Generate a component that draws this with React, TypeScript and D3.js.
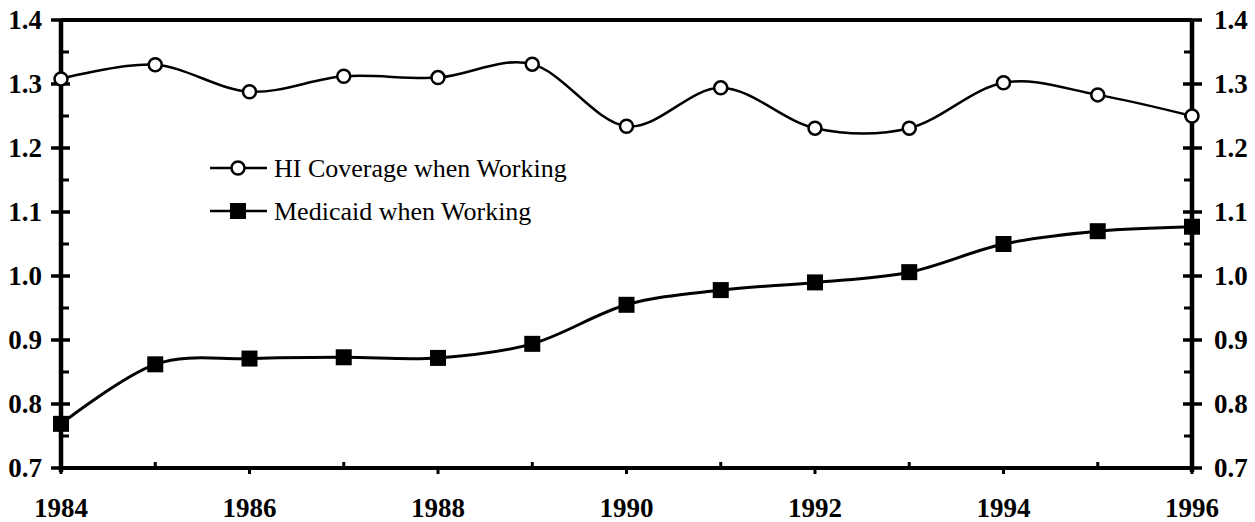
import React from "react";
import * as d3 from "d3";

const years = [1984, 1985, 1986, 1987, 1988, 1989, 1990, 1991, 1992, 1993, 1994, 1995, 1996];
const hiCoverage = [1.308, 1.33, 1.288, 1.312, 1.31, 1.331, 1.234, 1.294, 1.231, 1.231, 1.302, 1.283, 1.25];
const medicaid = [0.769, 0.862, 0.871, 0.873, 0.872, 0.894, 0.955, 0.978, 0.99, 1.006, 1.05, 1.07, 1.077];
const yTicks = [0.7, 0.8, 0.9, 1.0, 1.1, 1.2, 1.3, 1.4];
const yMinor = [0.75, 0.85, 0.95, 1.05, 1.15, 1.25, 1.35];
const xLabels = [1984, 1986, 1988, 1990, 1992, 1994, 1996];
const seriesNames = ["HI Coverage when Working", "Medicaid when Working"];

const W = 1255;
const H = 522;
const left = 61;
const right = 1192;
const top = 20;
const bottom = 468;
const font = '"Liberation Serif", "DejaVu Serif", serif';

export default function App() {
  const x = d3.scaleLinear().domain([1984, 1996]).range([left, right]);
  const y = d3.scaleLinear().domain([0.7, 1.4]).range([bottom, top]);

  const line = d3
    .line<number>()
    .x((d, i) => x(years[i]))
    .y((d) => y(d))
    .curve(d3.curveCardinal.tension(0));

  const lbl = { fontFamily: font, fontSize: 27, fontWeight: "bold" as const };

  return (
    <svg
      width={W}
      height={H}
      style={{ position: "absolute", left: 0, top: 0, background: "#fff", fontFamily: font }}
    >
      {/* frame */}
      <line x1={left} x2={right} y1={top} y2={top} stroke="#000" strokeWidth={4} />
      <line x1={left} x2={right} y1={bottom} y2={bottom} stroke="#000" strokeWidth={4} />
      <line x1={left} x2={left} y1={top} y2={bottom + 4} stroke="#000" strokeWidth={4.5} />
      <line x1={right} x2={right} y1={top} y2={bottom + 4} stroke="#000" strokeWidth={4.5} />

      {/* y ticks + labels, both sides */}
      {yTicks.map((t) => (
        <g key={"yt" + t}>
          <line x1={left - 10} x2={left + 9} y1={y(t)} y2={y(t)} stroke="#000" strokeWidth={3.5} />
          <line x1={right - 9} x2={right + 10} y1={y(t)} y2={y(t)} stroke="#000" strokeWidth={3.5} />
          <text x={42} y={y(t)} dy="0.35em" textAnchor="end" style={lbl}>
            {d3.format(".1f")(t)}
          </text>
          <text x={1214} y={y(t)} dy="0.35em" textAnchor="start" style={lbl}>
            {d3.format(".1f")(t)}
          </text>
        </g>
      ))}
      {yMinor.map((t) => (
        <g key={"ym" + t}>
          <line x1={left} x2={left + 8} y1={y(t)} y2={y(t)} stroke="#000" strokeWidth={3} />
          <line x1={right - 8} x2={right} y1={y(t)} y2={y(t)} stroke="#000" strokeWidth={3} />
        </g>
      ))}

      {/* x ticks + labels */}
      {years.map((yr, i) => (
        <line
          key={"xt" + yr}
          x1={x(yr)}
          x2={x(yr)}
          y1={bottom}
          y2={i % 2 === 0 ? bottom + 6 : bottom - 6}
          stroke="#000"
          strokeWidth={3}
        />
      ))}
      {xLabels.map((yr) => (
        <text key={"xl" + yr} x={x(yr)} y={517} textAnchor="middle" style={lbl}>
          {yr}
        </text>
      ))}

      {/* series */}
      <path d={line(hiCoverage) || ""} fill="none" stroke="#000" strokeWidth={2.5} />
      <path d={line(medicaid) || ""} fill="none" stroke="#000" strokeWidth={3} />
      {hiCoverage.map((v, i) => (
        <circle key={"hc" + i} cx={x(years[i])} cy={y(v)} r={6.5} fill="#fff" stroke="#000" strokeWidth={2.5} />
      ))}
      {medicaid.map((v, i) => (
        <rect key={"md" + i} x={x(years[i]) - 8} y={y(v) - 8} width={16} height={16} fill="#000" />
      ))}

      {/* legend */}
      <g>
        <line x1={210} x2={267} y1={168} y2={168} stroke="#000" strokeWidth={2.5} />
        <circle cx={238} cy={168} r={6.5} fill="#fff" stroke="#000" strokeWidth={2.5} />
        <text x={274} y={177} style={{ fontFamily: font, fontSize: 26 }}>
          {seriesNames[0]}
        </text>
        <line x1={210} x2={267} y1={211} y2={211} stroke="#000" strokeWidth={2.5} />
        <rect x={230} y={203} width={16} height={16} fill="#000" />
        <text x={274} y={220} style={{ fontFamily: font, fontSize: 26 }}>
          {seriesNames[1]}
        </text>
      </g>
    </svg>
  );
}
